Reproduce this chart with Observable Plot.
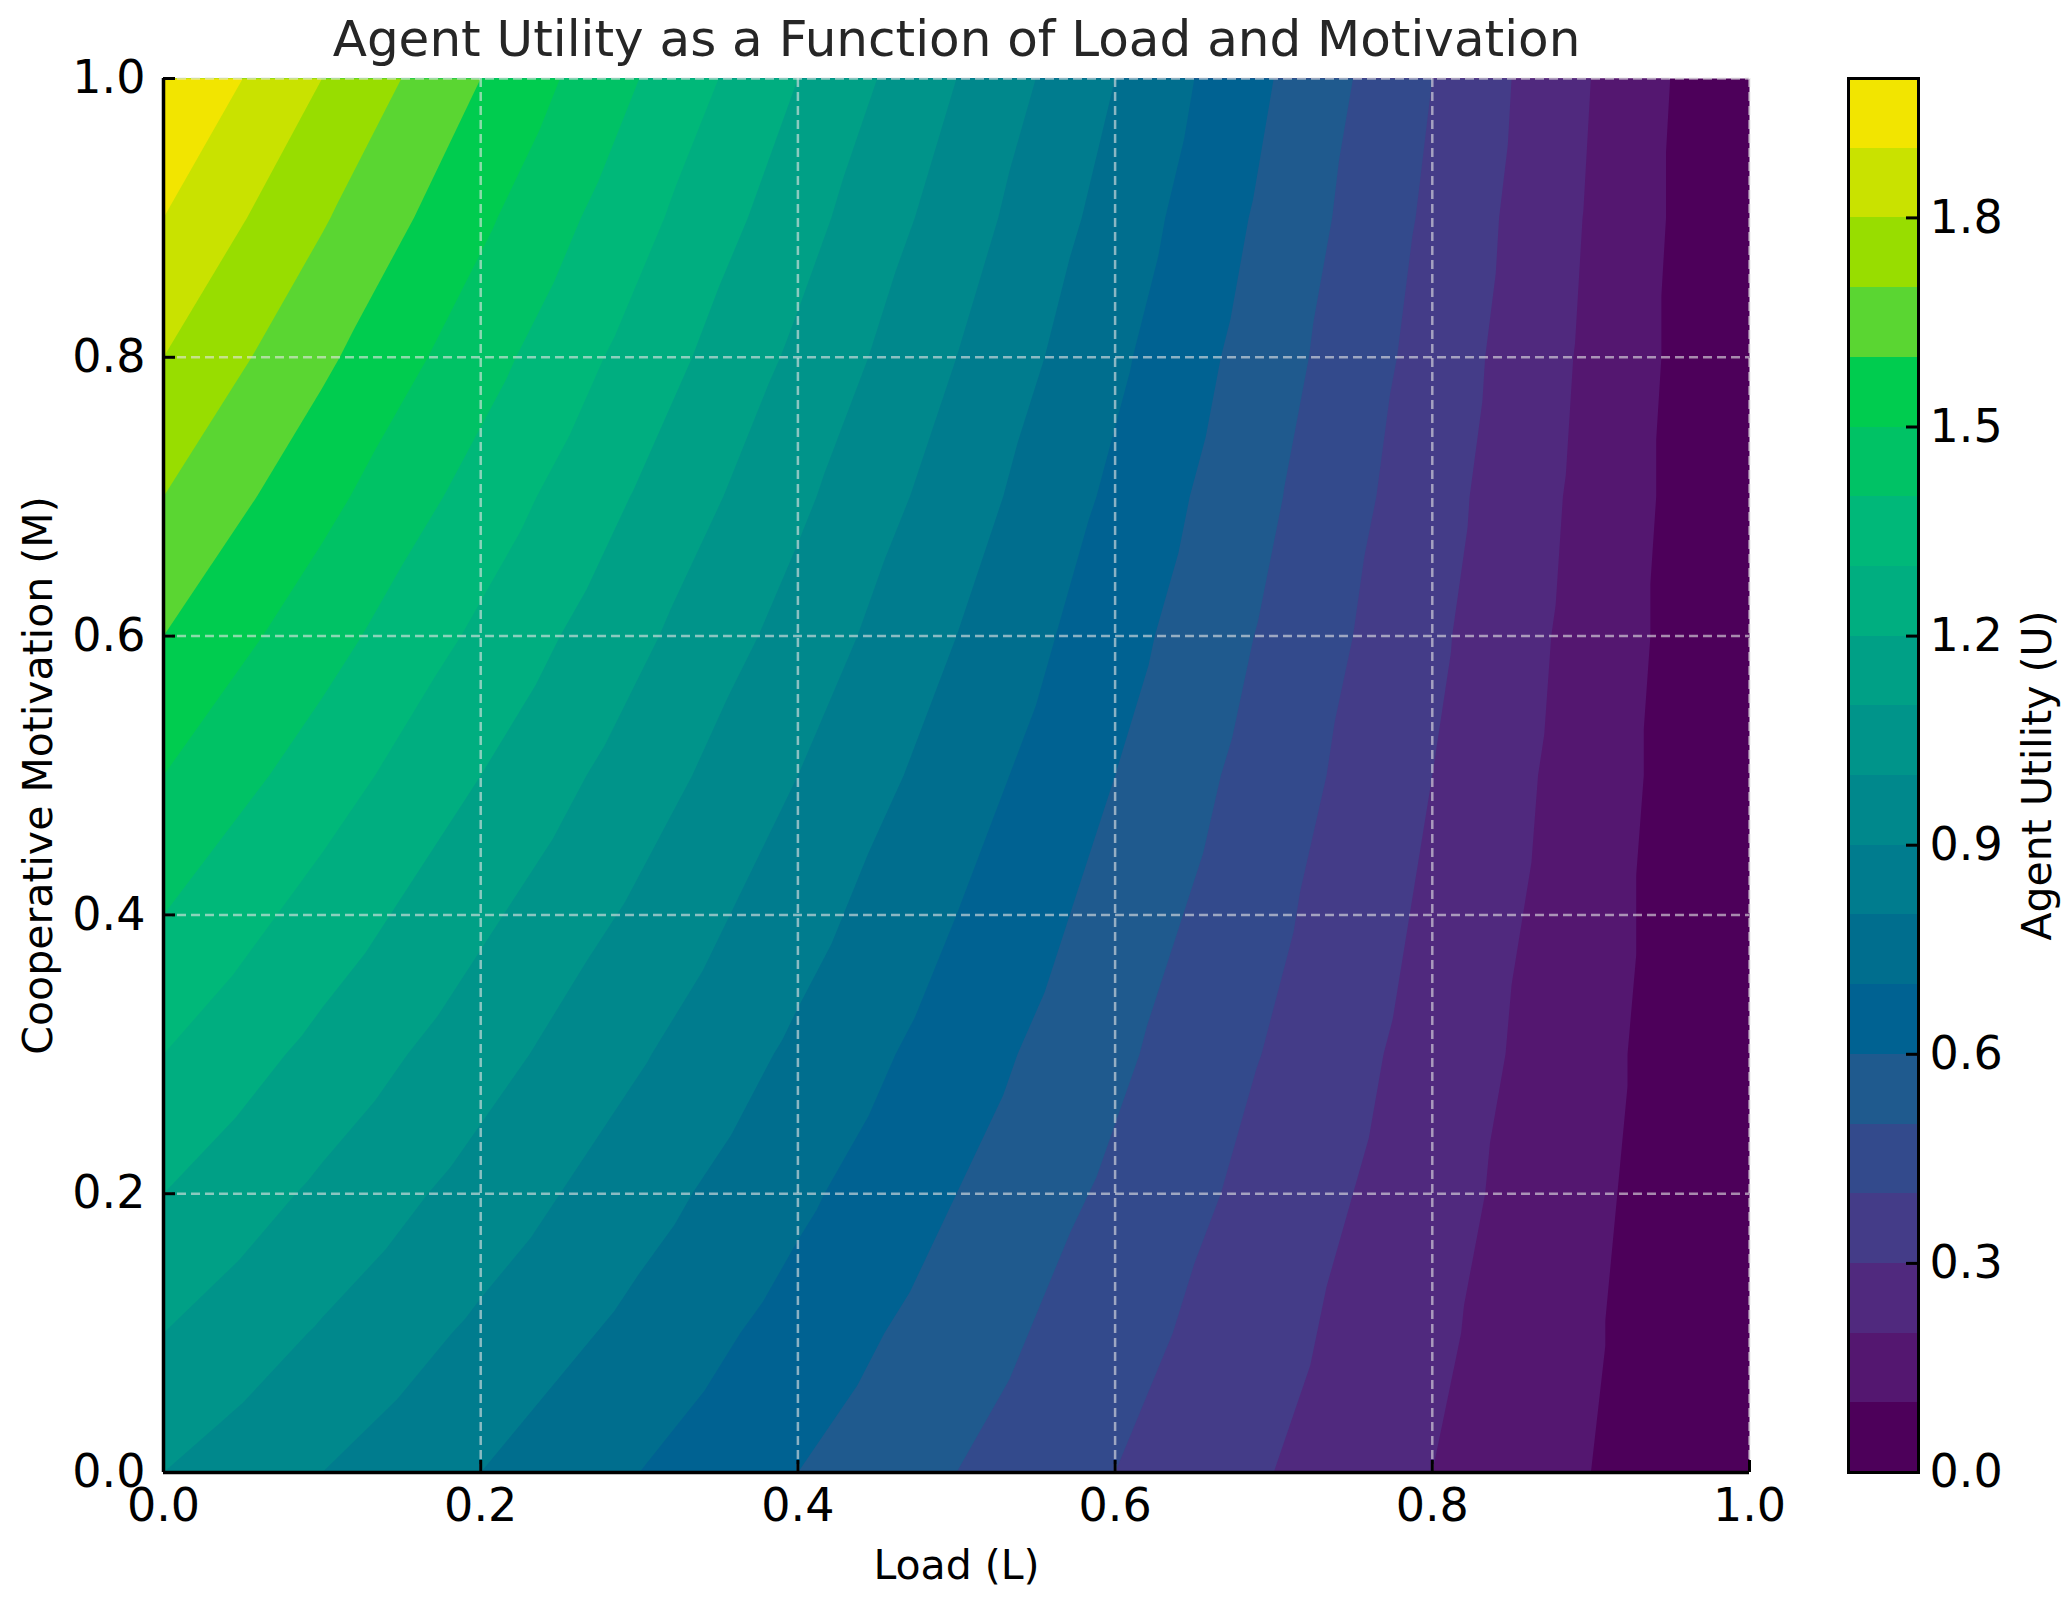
<!DOCTYPE html>
<html><head><meta charset="utf-8">
<script src="https://cdn.jsdelivr.net/npm/d3@7"></script>
<script src="https://cdn.jsdelivr.net/npm/@observablehq/plot@0.6"></script>
<style>
html,body{margin:0;padding:0;background:#fff;}
#wrap{position:relative;width:2065px;height:1607px;overflow:hidden;}
#main{position:absolute;left:0;top:0;}
#cbar{position:absolute;left:1800px;top:0;}
</style></head><body><div id="wrap"><div id="main"></div><div id="cbar"></div></div>
<script>
const titleText = "Agent Utility as a Function of Load and Motivation";
const xLabel = "Load (L)";
const yLabel = "Cooperative Motivation (M)";
const cbarLabel = "Agent Utility (U)";

// Grid of Load (columns) and Motivation (rows)
const loadL = [0, 0.1, 0.2, 0.3, 0.4, 0.5, 0.6, 0.7, 0.8, 0.9, 1.0];
const motivM = [0, 0.1, 0.2, 0.3, 0.4, 0.5, 0.6, 0.7, 0.8, 0.9, 1.0];
const utilityU = [
  [1.00, 0.90, 0.80, 0.70, 0.60, 0.50, 0.40, 0.30, 0.20, 0.10, 0],
  [1.10, 0.99, 0.88, 0.77, 0.66, 0.55, 0.44, 0.33, 0.22, 0.11, 0],
  [1.20, 1.08, 0.96, 0.84, 0.72, 0.60, 0.48, 0.36, 0.24, 0.12, 0],
  [1.30, 1.17, 1.04, 0.91, 0.78, 0.65, 0.52, 0.39, 0.26, 0.13, 0],
  [1.40, 1.26, 1.12, 0.98, 0.84, 0.70, 0.56, 0.42, 0.28, 0.14, 0],
  [1.50, 1.35, 1.20, 1.05, 0.90, 0.75, 0.60, 0.45, 0.30, 0.15, 0],
  [1.60, 1.44, 1.28, 1.12, 0.96, 0.80, 0.64, 0.48, 0.32, 0.16, 0],
  [1.70, 1.53, 1.36, 1.19, 1.02, 0.85, 0.68, 0.51, 0.34, 0.17, 0],
  [1.80, 1.62, 1.44, 1.26, 1.08, 0.90, 0.72, 0.54, 0.36, 0.18, 0],
  [1.90, 1.71, 1.52, 1.33, 1.14, 0.95, 0.76, 0.57, 0.38, 0.19, 0],
  [2.00, 1.80, 1.60, 1.40, 1.20, 1.00, 0.80, 0.60, 0.40, 0.20, 0]
];
const levels = [0, 0.1, 0.2, 0.3, 0.4, 0.5, 0.6, 0.7, 0.8, 0.9, 1.0, 1.1, 1.2, 1.3, 1.4, 1.5, 1.6, 1.7, 1.8, 1.9, 2.0];
const axisTicks = [0, 0.2, 0.4, 0.6, 0.8, 1.0];
const cbarTicks = [0, 0.3, 0.6, 0.9, 1.2, 1.5, 1.8];
// one colour per band, lowest band first
const bandColors = ["#4d005a", "#541770", "#50297e", "#443c88", "#334a8c", "#1f5a8e", "#006292", "#006e8e", "#007c8e", "#00888c",
                    "#00948a", "#00a086", "#00ae80", "#00b879", "#00c265", "#00cc4f", "#5ad632", "#98dd00", "#c9e200", "#f2e500"];

const points = [];
motivM.forEach((m, i) => loadL.forEach((l, j) => points.push({L: l, M: m, U: utilityU[i][j]})));
const bandLows = levels.slice(0, -1);
const bands = bandLows.map((t, i) => ({lo: t, hi: levels[i + 1]}));
const colorScale = {type: "ordinal", domain: bandLows, range: bandColors};
const font = "DejaVu Sans";
const gridStyle = {stroke: "#e6e6e6", strokeOpacity: 0.6, strokeWidth: 2.5, strokeDasharray: "9,5"};

const main = Plot.plot({
  width: 1800, height: 1607,
  marginLeft: 163, marginRight: 51, marginTop: 78, marginBottom: 135,
  style: {fontFamily: font, background: "transparent", color: "#000"},
  x: {domain: [0, 1]},
  y: {domain: [0, 1]},
  color: colorScale,
  marks: [
    Plot.contour(points, {x: "L", y: "M", fill: "U", thresholds: bandLows, interpolate: "barycentric", pixelSize: 2}),
    Plot.gridX(axisTicks, gridStyle),
    Plot.gridY(axisTicks, gridStyle),
    Plot.axisX(axisTicks, {tickFormat: ".1f", tickSize: -12, tickPadding: 28, fontSize: 46, strokeWidth: 3, label: null, fill: "#000"}),
    Plot.axisY(axisTicks, {tickFormat: ".1f", tickSize: -12, tickPadding: 30, fontSize: 46, strokeWidth: 3, label: null, fill: "#000"}),
    Plot.ruleX([0], {stroke: "#000", strokeWidth: 3.5}),
    Plot.ruleY([0], {stroke: "#000", strokeWidth: 3.5}),
    Plot.text([xLabel], {frameAnchor: "bottom", dy: 106, fontSize: 41, fill: "#000"}),
    Plot.text([yLabel], {frameAnchor: "left", textAnchor: "middle", rotate: -90, dx: -125, fontSize: 41, fill: "#000"}),
    Plot.text([titleText], {frameAnchor: "top", dy: -58, fontSize: 50, fill: "#262626"})
  ]
});
document.getElementById("main").appendChild(main);

const cbar = Plot.plot({
  width: 265, height: 1607,
  marginLeft: 48, marginRight: 147, marginTop: 78, marginBottom: 135,
  style: {fontFamily: font, background: "transparent", color: "#000"},
  x: {domain: [0, 1], axis: null},
  y: {domain: [levels[0], levels[levels.length - 1]]},
  color: colorScale,
  marks: [
    Plot.rect(bands, {x1: 0, x2: 1, y1: "lo", y2: "hi", fill: "lo", shapeRendering: "crispEdges"}),
    Plot.axisY(cbarTicks, {anchor: "right", tickFormat: ".1f", tickSize: -13, tickPadding: 24, fontSize: 46, strokeWidth: 3, label: null, fill: "#000"}),
    Plot.frame({stroke: "#000", strokeWidth: 3}),
    Plot.text([cbarLabel], {frameAnchor: "right", textAnchor: "middle", rotate: -90, dx: 119, fontSize: 41, fill: "#000"})
  ]
});
document.getElementById("cbar").appendChild(cbar);
</script></body></html>
